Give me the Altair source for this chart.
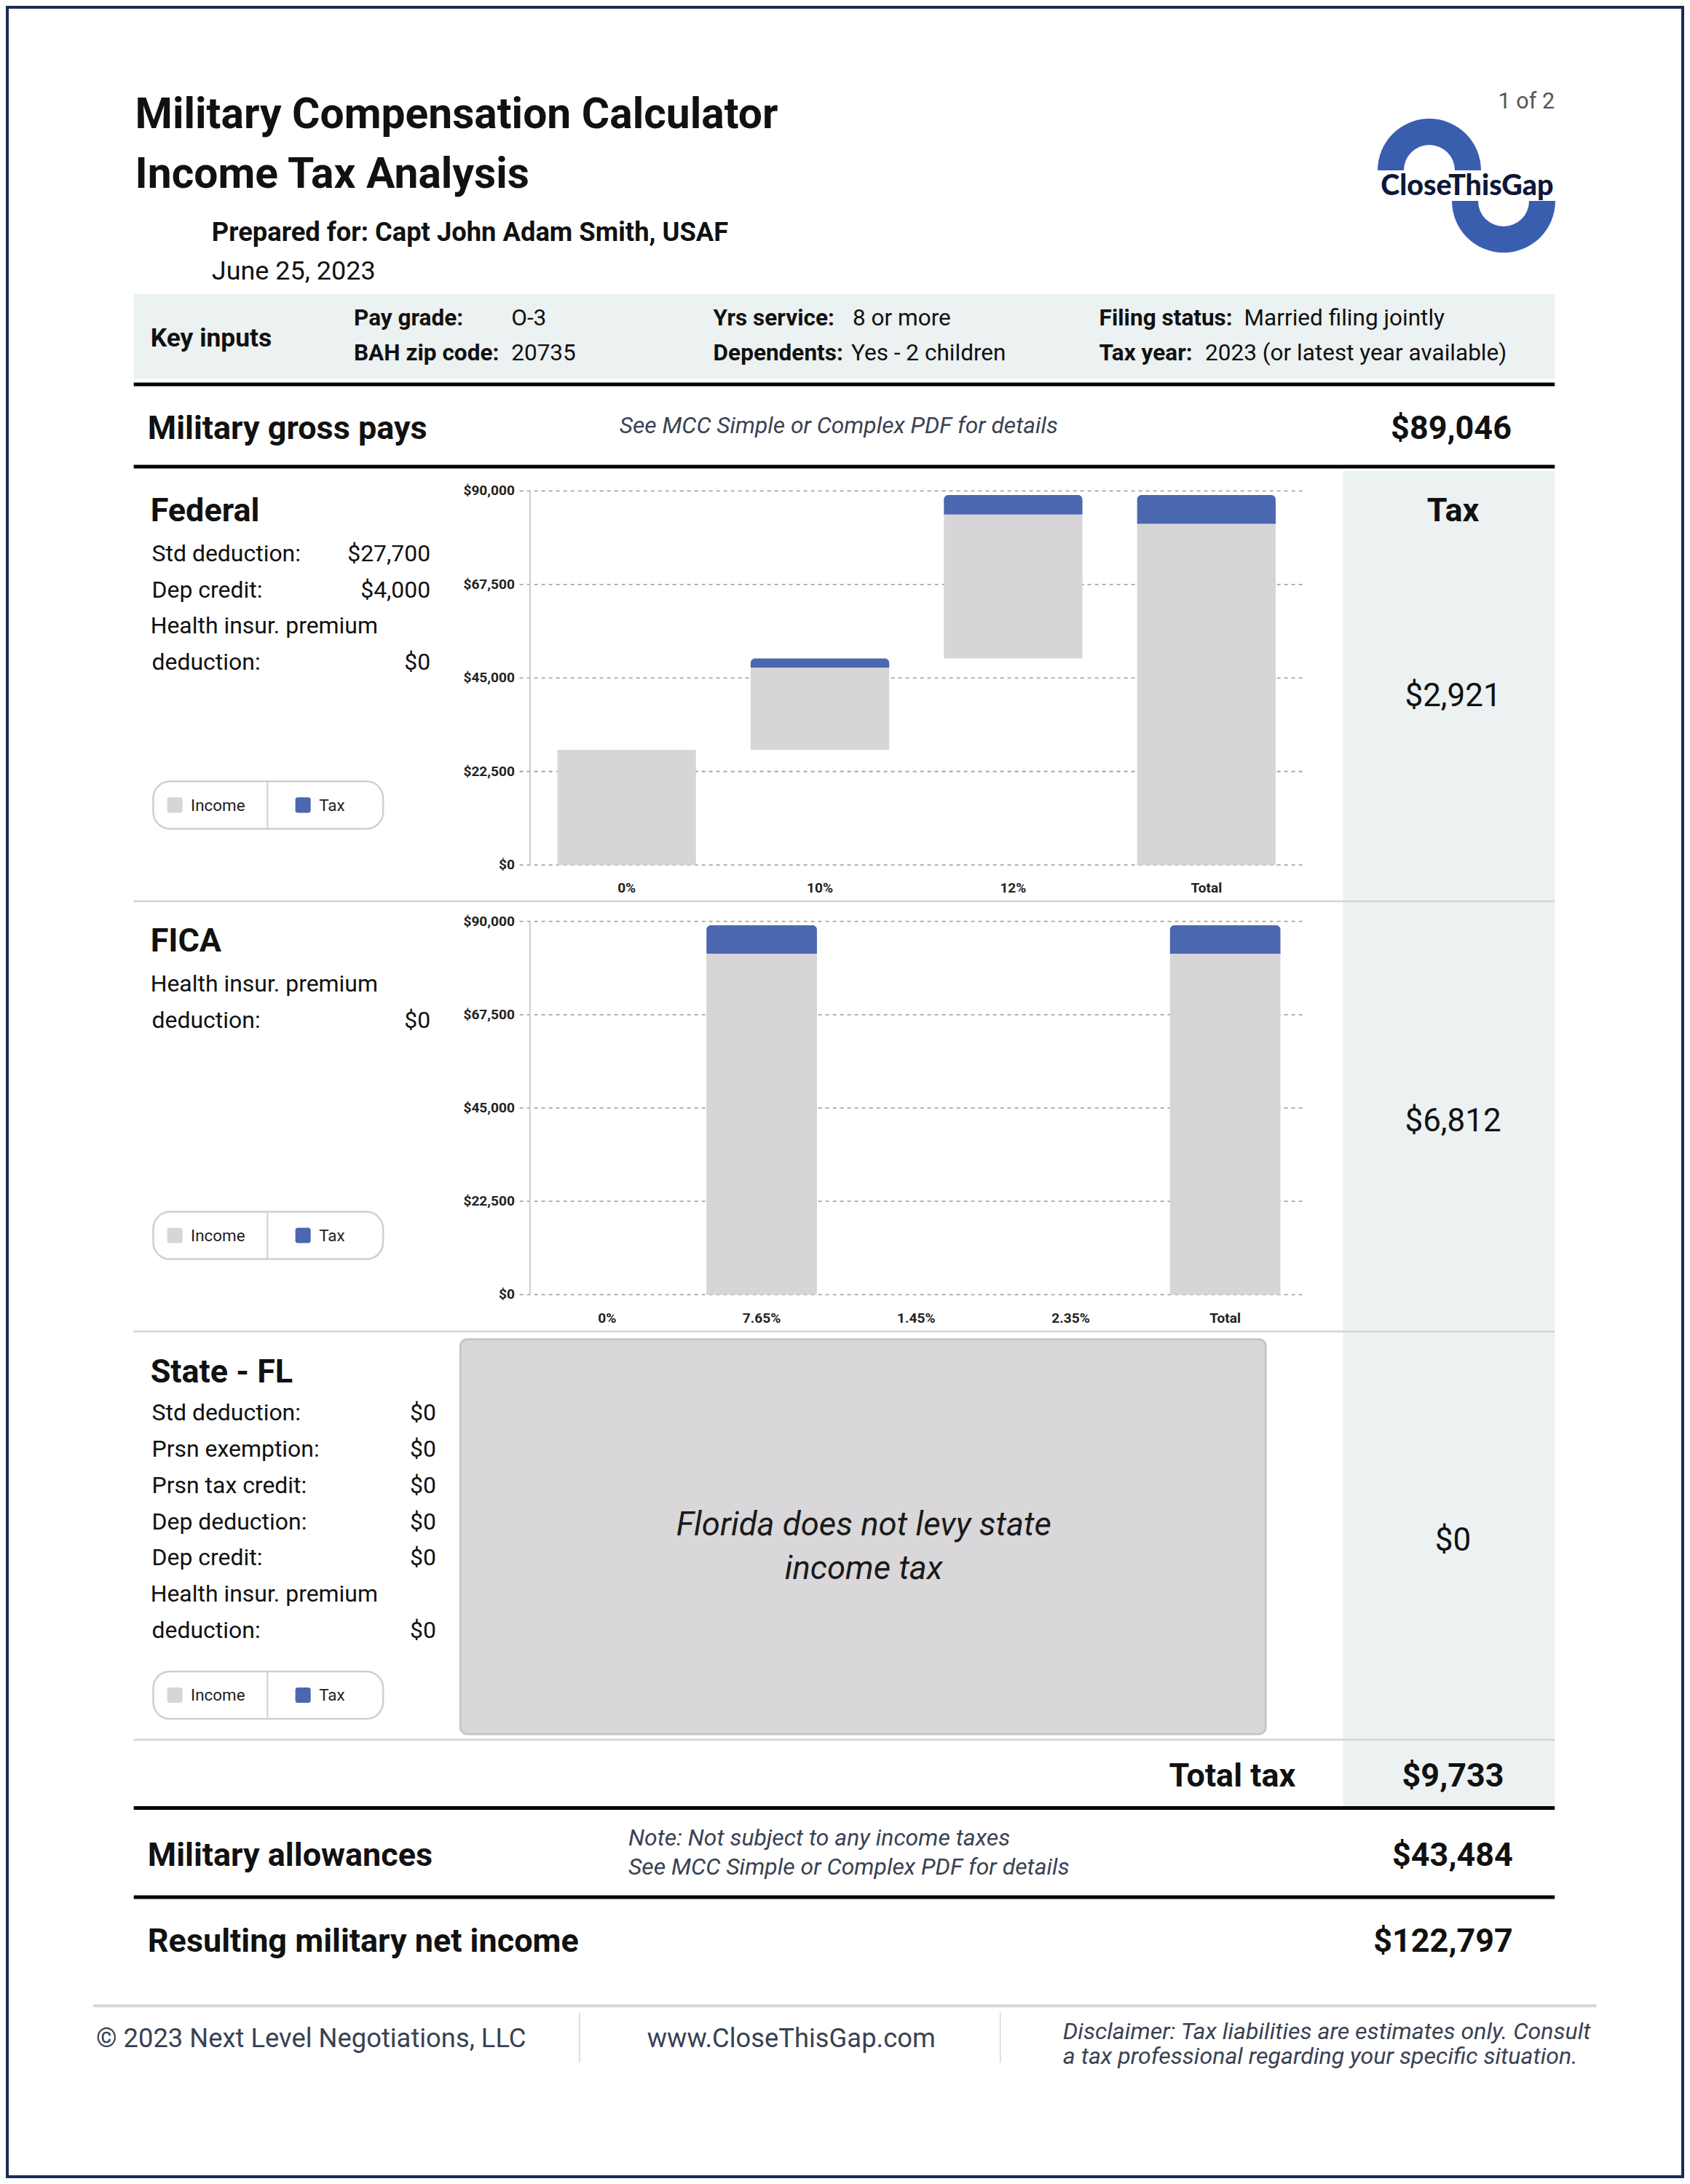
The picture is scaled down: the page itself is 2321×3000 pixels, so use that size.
import math
import altair as alt
import pandas as pd

S = 1.9133          # reference pixels per layout unit
W, H = 2305, 2984   # chart canvas (page minus 8px margins)

# ---------------- data ----------------
fed_cats = ["0%", "10%", "12%", "Total"]
fed_base = [0, 27700, 49700, 0]
fed_income = [27700, 19800, 34625, 82125]
fed_tax = [0, 2200, 4721, 6921]

fica_cats = ["0%", "7.65%", "1.45%", "2.35%", "Total"]
fica_base = [0, 0, 0, 0, 0]
fica_income = [0, 82234, 0, 0, 82234]
fica_tax = [0, 6812, 0, 0, 6812]

y_ticks = [0, 22500, 45000, 67500, 90000]
y_max = 90000

series_names = ["Income", "Tax"]
series_colors = ["#d7d5d7", "#4a67b0"]

gross_pay = "$89,046"
fed_tax_total = "$2,921"
fica_tax_total = "$6,812"
state_tax_total = "$0"
total_tax = "$9,733"
allowances = "$43,484"
net_income = "$122,797"

fed_inputs = [("Std deduction:", "$27,700"), ("Dep credit:", "$4,000")]
state_inputs = ["Std deduction:", "Prsn exemption:", "Prsn tax credit:",
                "Dep deduction:", "Dep credit:"]

INK = "#111111"
NOTE = "#3a4252"
PANEL = "#ecf1f1"
LOGO_BLUE = "#3a5eae"


def P(d):
    return d * S - 8


XS = alt.Scale(domain=[8 / S, (8 + W) / S], range=[0, W], nice=False, zero=False)
YS = alt.Scale(domain=[8 / S, (8 + H) / S], range=[0, H], nice=False, zero=False)


def ex(f):
    return alt.X(f"{f}:Q", scale=XS, axis=None)


def ey(f):
    return alt.Y(f"{f}:Q", scale=YS, axis=None)


def texts(rows, size, weight="normal", style="normal", align="left",
          color=INK, font="Roboto"):
    df = pd.DataFrame(rows, columns=["x", "cy", "t"])
    df["yb"] = df["cy"] + 0.355 * size
    return alt.Chart(df).mark_text(
        font=font, fontSize=size * S, fontWeight=weight, fontStyle=style,
        align=align, baseline="alphabetic", color=color
    ).encode(x=ex("x"), y=ey("yb"), text="t:N")


def rects(rows, **mark):
    df = pd.DataFrame(rows, columns=["x", "x2", "y", "y2"])
    return alt.Chart(df).mark_rect(**mark).encode(
        x=ex("x"), x2=alt.X2("x2"), y=ey("y"), y2=alt.Y2("y2"))


def hrules(rows, color, width):
    df = pd.DataFrame(rows, columns=["x", "x2", "y"])
    return alt.Chart(df).mark_rule(color=color, strokeWidth=width).encode(
        x=ex("x"), x2=alt.X2("x2"), y=ey("y"))


def vrules(rows, color, width):
    df = pd.DataFrame(rows, columns=["x", "y", "y2"])
    return alt.Chart(df).mark_rule(color=color, strokeWidth=width).encode(
        x=ex("x"), y=ey("y"), y2=alt.Y2("y2"))


def legend(cy):
    box = rects([(110, 275, cy - 17, cy + 17)], fill="white", stroke="#cfcfcf",
                strokeWidth=2.5, cornerRadius=12 * S)
    div = vrules([(192, cy - 17, cy + 17)], "#cfcfcf", 2)
    sw = pd.DataFrame({"x": [120, 212], "x2": [131, 223],
                       "y": [cy - 5.5] * 2, "y2": [cy + 5.5] * 2,
                       "s": series_names})
    swatch = alt.Chart(sw).mark_rect(cornerRadius=3).encode(
        x=ex("x"), x2=alt.X2("x2"), y=ey("y"), y2=alt.Y2("y2"),
        color=alt.Color("s:N", scale=alt.Scale(domain=series_names, range=series_colors),
                        legend=None))
    lab = texts([(137, cy, series_names[0]), (229, cy, series_names[1])], 11.7,
                color="#222222")
    return [box, div, swatch, lab]


def bar_panel(cats, base, income, tax, xl, xr, y0, y90, pin, label_cy):
    rows = []
    for c, b, i, t in zip(cats, base, income, tax):
        rows.append(dict(cat=c, kind="Income", start=b, end=b + i))
        rows.append(dict(cat=c, kind="Tax", start=b + i, end=b + i + t))
    df = pd.DataFrame(rows)
    df = df[df["end"] > df["start"]]
    xsc = alt.Scale(type="band", domain=cats, range=[P(xl), P(xr)],
                    paddingInner=pin, paddingOuter=pin / 2)
    ysc = alt.Scale(domain=[0, y_max], range=[P(y0), P(y90)], nice=False, zero=False)
    X = alt.X("cat:N", scale=xsc, axis=None)
    Xc = alt.X("cat:N", scale=xsc, axis=None, bandPosition=0.5)
    Y = alt.Y("start:Q", scale=ysc, axis=None)
    tick_df = pd.DataFrame({"v": y_ticks, "lab": [f"${v:,}" for v in y_ticks]})
    grid = alt.Chart(tick_df).mark_rule(
        color="#a8a8a8", strokeWidth=1.8, strokeDash=[5, 5]
    ).encode(x=alt.value(P(373)), x2=alt.value(P(935)),
             y=alt.Y("v:Q", scale=ysc, axis=None))
    axis_line = alt.Chart(pd.DataFrame({"v": [0], "v2": [y_max]})).mark_rule(
        color="#cccccc", strokeWidth=2
    ).encode(x=alt.value(P(xl)), y=alt.Y("v:Q", scale=ysc, axis=None),
             y2=alt.Y2("v2:Q"))
    inc = alt.Chart(df[df["kind"] == "Income"]).mark_bar(
        color=series_colors[0]).encode(x=X, y=Y, y2=alt.Y2("end:Q"))
    tx = alt.Chart(df[df["kind"] == "Tax"]).mark_bar(
        color=series_colors[1], cornerRadiusTopLeft=6, cornerRadiusTopRight=6
    ).encode(x=X, y=Y, y2=alt.Y2("end:Q"))
    ylab = alt.Chart(tick_df).mark_text(
        font="Roboto", fontSize=10 * S, fontWeight="bold", align="right",
        baseline="middle", color="#222222"
    ).encode(x=alt.value(P(369.5)), y=alt.Y("v:Q", scale=ysc, axis=None), text="lab:N")
    xlab = alt.Chart(pd.DataFrame({"cat": cats})).mark_text(
        font="Roboto", fontSize=10 * S, fontWeight="bold", align="center",
        baseline="alphabetic", color="#222222"
    ).encode(x=Xc, y=alt.value(P(label_cy + 3.6)), text="cat:N")
    return [grid, axis_line, inc, tx, ylab, xlab]


layers = []

# backgrounds
layers.append(rects([(96, 1116, 211, 272)], color=PANEL))
layers.append(rects([(964, 1116, 338, 1297)], color=PANEL))

# rules
layers.append(hrules([(96, 1116, 276), (96, 1116, 335), (96, 1116, 1298),
                      (96, 1116, 1362)], "#000000", 5))
layers.append(hrules([(96, 1116, 647), (96, 1116, 956), (96, 1116, 1249)],
                     "#d4d4d4", 2.5))
layers.append(hrules([(67, 1146, 1440)], "#d6d6d6", 4))
layers.append(vrules([(416, 1445, 1481), (718, 1445, 1481)], "#d6d6d6", 1.5))

# state placeholder box
layers.append(rects([(330.5, 908.5, 961.5, 1245)], fill="#d9d7d9", stroke="#c6c6c6",
                    strokeWidth=3, cornerRadius=5 * S))

# legends
for cy in (578, 887, 1217):
    layers += legend(cy)

# bar charts
layers += bar_panel(fed_cats, fed_base, fed_income, fed_tax,
                    380.5, 935.3, 621, 352.5, 0.283, 637)
layers += bar_panel(fica_cats, fica_base, fica_income, fica_tax,
                    380.4, 934.9, 929.5, 661.5, 0.285, 946)

# ---- texts ----
layers.append(texts([(97, 81, "Military Compensation Calculator"),
                     (97, 124, "Income Tax Analysis")], 30.7, weight="bold"))
layers.append(texts([(152, 166, "Prepared for: Capt John Adam Smith, USAF")],
                    19, weight="bold"))
layers.append(texts([(108, 242, "Key inputs")], 18.5, weight="bold"))
layers.append(texts([(152, 194, "June 25, 2023")], 18.8))
layers.append(texts([(1116, 72, "1 of 2")], 16, align="right", color="#555555"))

layers.append(texts([(254, 228, "Pay grade:"), (254, 253, "BAH zip code:"),
                     (512, 228, "Yrs service:"), (512, 253, "Dependents:"),
                     (789, 228, "Filing status:"), (789, 253, "Tax year:")],
                    16.5, weight="bold"))
layers.append(texts([(367, 228, "O-3"), (367, 253, "20735"),
                     (612, 228, "8 or more"), (611, 253, "Yes - 2 children"),
                     (893, 228, "Married filing jointly"),
                     (865, 253, "2023 (or latest year available)")], 16.5))

layers.append(texts([(106, 307, "Military gross pays"), (108, 366, "Federal"),
                     (108, 675, "FICA"), (108, 984, "State - FL"),
                     (106, 1331, "Military allowances"),
                     (106, 1393, "Resulting military net income")], 23.5, weight="bold"))
layers.append(texts([(1085, 307, gross_pay), (930, 1274, "Total tax"),
                     (1086, 1331, allowances), (1086, 1393, net_income)],
                    23.5, weight="bold", align="right"))
layers.append(texts([(1043, 366, "Tax"), (1043, 1274, total_tax)],
                    23.5, weight="bold", align="center"))
layers.append(texts([(1043, 499, fed_tax_total), (1043, 804, fica_tax_total),
                     (1043, 1105, state_tax_total)], 23, align="center"))

layers.append(texts([(602, 305, "See MCC Simple or Complex PDF for details")],
                    16.6, style="italic", align="center", color=NOTE))
layers.append(texts([(451, 1319, "Note: Not subject to any income taxes"),
                     (451, 1340, "See MCC Simple or Complex PDF for details")],
                    16.7, style="italic", color=NOTE))

left_rows = [(109, 397, fed_inputs[0][0]), (109, 423, fed_inputs[1][0]),
             (108, 449, "Health insur. premium"), (109, 475, "deduction:"),
             (108, 706, "Health insur. premium"), (109, 732, "deduction:")]
state_ys = [1014, 1040, 1066, 1092, 1118]
left_rows += [(109, y, lab) for y, lab in zip(state_ys, state_inputs)]
left_rows += [(108, 1144, "Health insur. premium"), (109, 1170, "deduction:")]
layers.append(texts(left_rows, 16.7))
right_rows = [(309, 397, fed_inputs[0][1]), (309, 423, fed_inputs[1][1]),
              (309, 475, "$0"), (309, 732, "$0")]
right_rows += [(313, y, "$0") for y in state_ys + [1170]]
layers.append(texts(right_rows, 16.7, align="right"))

layers.append(texts([(620, 1094, "Florida does not levy state"),
                     (620, 1125, "income tax")], 23.8, style="italic",
                    align="center", color="#1a1a1a"))

layers.append(texts([(69, 1463, "\u00a9 2023 Next Level Negotiations, LLC")], 19, color=NOTE))
layers.append(texts([(568, 1463, "www.CloseThisGap.com")], 19, align="center", color=NOTE))
layers.append(texts([(763, 1458, "Disclaimer: Tax liabilities are estimates only. Consult"),
                     (763, 1476, "a tax professional regarding your specific situation.")],
                    16.8, style="italic", color=NOTE))

# ---- logo ----
one = pd.DataFrame({"a": [0]})
layers.append(alt.Chart(one).mark_arc(color=LOGO_BLUE).encode(
    x=alt.value(1963 - 8), y=alt.value(234 - 8),
    theta=alt.value(1.5 * math.pi), theta2=alt.value(2.5 * math.pi),
    radius=alt.value(71), radius2=alt.value(35)))
layers.append(alt.Chart(one).mark_arc(color=LOGO_BLUE).encode(
    x=alt.value(2065 - 8), y=alt.value(276 - 8),
    theta=alt.value(0.5 * math.pi), theta2=alt.value(1.5 * math.pi),
    radius=alt.value(71), radius2=alt.value(35)))
layers.append(texts([(1053.1, 132.5, "CloseThisGap")], 20.6, weight=900,
                    align="center", color="#0f1838", font="Lato"))

# ---- page border ----
layers.append(alt.Chart(one).mark_rect(fillOpacity=0, stroke="#1b2d55", strokeWidth=4).encode(
    x=alt.value(2), x2=alt.value(W - 2), y=alt.value(2), y2=alt.value(H - 2)))

chart = alt.layer(*layers).resolve_scale(
    x="independent", y="independent", color="independent"
).properties(
    width=W, height=H, padding=0, background="white",
    autosize=alt.AutoSizeParams(type="none")
).configure_view(stroke=None)

chart.save("out.html", embed_options={"renderer": "svg", "actions": False})
